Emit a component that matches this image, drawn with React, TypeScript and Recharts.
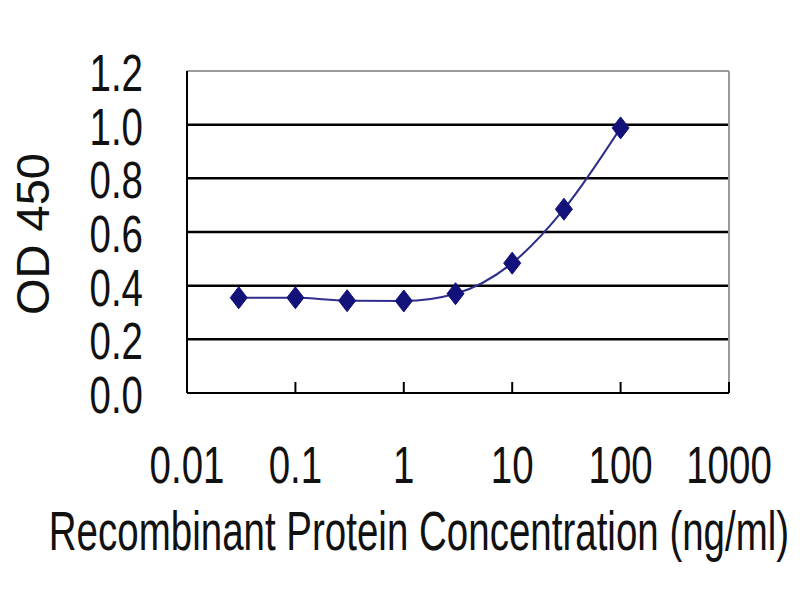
import React from 'react';
import { LineChart, Line, XAxis, YAxis, ReferenceLine } from 'recharts';

const concentrations = [0.03, 0.1, 0.3, 1, 3, 10, 30, 100];
const od450 = [0.355, 0.355, 0.344, 0.343, 0.37, 0.484, 0.685, 0.988];
const xTicks = [0.01, 0.1, 1, 10, 100, 1000];
const xTickLabels = ['0.01', '0.1', '1', '10', '100', '1000'];
const yTicks = [0, 0.2, 0.4, 0.6, 0.8, 1.0, 1.2];
const yTickLabels = ['0.0', '0.2', '0.4', '0.6', '0.8', '1.0', '1.2'];
const gridValues = [0.2, 0.4, 0.6, 0.8, 1.0];
const xTitle = 'Recombinant Protein Concentration (ng/ml)';
const yTitle = 'OD 450';

const data = concentrations.map((c, i) => ({ conc: c, od: od450[i] }));

const FONT = "'Liberation Sans', Arial, sans-serif";
const SX = 0.74;

function XTick(props: any) {
  const { x, y, payload } = props;
  const i = xTicks.indexOf(payload.value);
  const label = i >= 0 ? xTickLabels[i] : String(payload.value);
  return (
    <g>
      <line x1={x} y1={y} x2={x} y2={y - 11} stroke="#000" strokeWidth={2} />
      <g transform={`translate(${x},${y + 90})`}>
        <text transform={`scale(${SX},1)`} textAnchor="middle" fontSize={52} fontFamily={FONT} fill="#111">
          {label}
        </text>
      </g>
    </g>
  );
}

function YTick(props: any) {
  const { x, y, payload } = props;
  const i = yTicks.findIndex((v) => Math.abs(v - payload.value) < 1e-9);
  const label = i >= 0 ? yTickLabels[i] : String(payload.value);
  return (
    <g transform={`translate(${x - 44},${y + 20})`}>
      <text transform={`scale(${SX},1)`} textAnchor="end" fontSize={52} fontFamily={FONT} fill="#111">
        {label}
      </text>
    </g>
  );
}

function Diamond(props: any) {
  const { cx, cy } = props;
  if (cx == null || cy == null) return null;
  const w = 8.5;
  const h = 11;
  return (
    <polygon
      points={`${cx},${cy - h} ${cx + w},${cy} ${cx},${cy + h} ${cx - w},${cy}`}
      fill="#12127a"
      stroke="#12127a"
      strokeWidth={1}
    />
  );
}

export default function App() {
  return (
    <div style={{ position: 'absolute', left: 0, top: 0, width: 800, height: 600, background: '#fff' }}>
      <LineChart width={800} height={600} data={data} margin={{ top: 71, right: 71, bottom: 0, left: 0 }}>
        <XAxis
          dataKey="conc"
          type="number"
          scale="log"
          domain={[0.01, 1000]}
          ticks={xTicks}
          interval={0}
          allowDataOverflow
          height={207}
          axisLine={{ stroke: '#000', strokeWidth: 2 }}
          tickLine={false}
          tickSize={0}
          tickMargin={0}
          tick={<XTick />}
        />
        <YAxis
          type="number"
          domain={[0, 1.2]}
          ticks={yTicks}
          interval={0}
          width={187}
          axisLine={{ stroke: '#000', strokeWidth: 2 }}
          tickLine={false}
          tickSize={0}
          tickMargin={0}
          tick={<YTick />}
        />
        {gridValues.map((v) => (
          <ReferenceLine key={v} y={v} stroke="#000" strokeWidth={2.5} />
        ))}
        <ReferenceLine y={1.2} stroke="#9a9a9a" strokeWidth={2} />
        <ReferenceLine x={1000} stroke="#9a9a9a" strokeWidth={2} />
        <Line
          dataKey="od"
          type="monotone"
          stroke="#2e2e8c"
          strokeWidth={2}
          dot={<Diamond />}
          activeDot={false}
          isAnimationActive={false}
        />
      </LineChart>
      <svg
        width={800}
        height={600}
        style={{ position: 'absolute', left: 0, top: 0, pointerEvents: 'none' }}
      >
        <g transform="translate(419,550)">
          <text transform="scale(0.7,1)" textAnchor="middle" fontSize={55} fontFamily={FONT} fill="#111">
            {xTitle}
          </text>
        </g>
        <text
          x={49}
          y={234}
          transform="rotate(-90,49,234)"
          textAnchor="middle"
          fontSize={47}
          fontFamily={FONT}
          fill="#111"
        >
          {yTitle}
        </text>
      </svg>
    </div>
  );
}
